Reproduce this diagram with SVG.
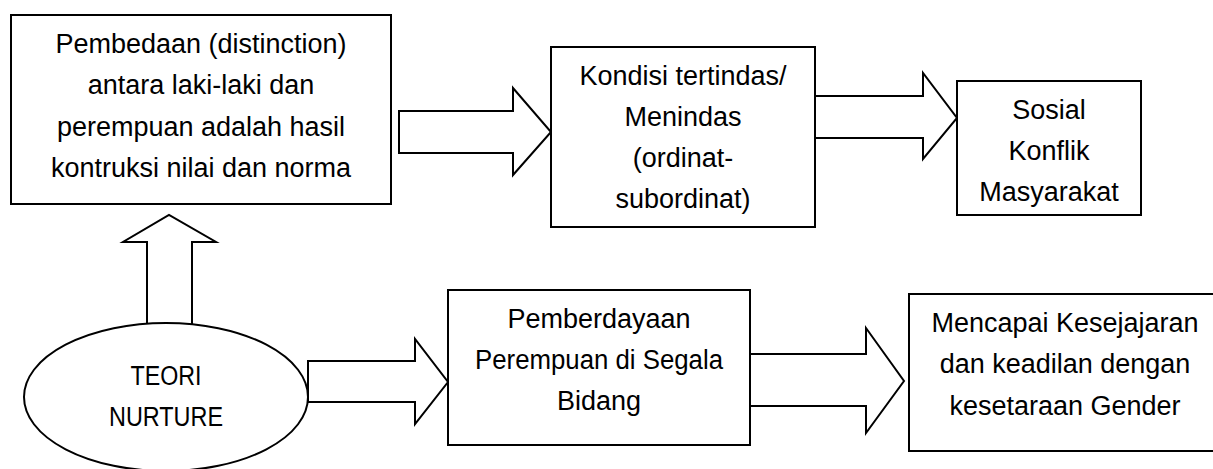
<svg xmlns="http://www.w3.org/2000/svg" width="1213" height="469" viewBox="0 0 1213 469">
<style>
.box{fill:#fff;stroke:#000;stroke-width:2}
.arr{fill:#fff;stroke:#000;stroke-width:2;stroke-linejoin:miter}
.t{font-family:"Liberation Sans",Arial,sans-serif;font-size:27px;fill:#000;text-anchor:middle}
</style>
<rect x="0" y="0" width="1213" height="469" fill="#fff"/>
<g id="connectors">
<polygon class="arr" points="399,111 513,111 513,88 551,132 513,175 513,153 399,153"/>
<polygon class="arr" points="815,96 923,96 923,73 957,118 923,159 923,138 815,138"/>
<polygon class="arr" points="147,330 147,242 123,242 169,215 216,242 192,242 192,330"/>
<polygon class="arr" points="308,361 415,361 415,339 448,382 415,424 415,402 308,402"/>
<polygon class="arr" points="750,354 866,354 866,328 904,381 866,433 866,406 750,406"/>
</g>
<g id="node-pembedaan">
<rect class="box" x="11" y="15" width="380" height="189"/>
<text class="t" x="201" y="53.3">Pembedaan (distinction)</text>
<text class="t" x="201" y="94.4">antara laki-laki dan</text>
<text class="t" x="201" y="135.5">perempuan adalah hasil</text>
<text class="t" x="201" y="176.6">kontruksi nilai dan norma</text>
</g>
<g id="node-kondisi">
<rect class="box" x="551" y="47" width="264" height="180"/>
<text class="t" x="683" y="85">Kondisi tertindas/</text>
<text class="t" x="683" y="126">Menindas</text>
<text class="t" x="683" y="167">(ordinat-</text>
<text class="t" x="683" y="208">subordinat)</text>
</g>
<g id="node-sosial">
<rect class="box" x="957" y="81" width="184" height="134"/>
<text class="t" x="1049" y="118.5">Sosial</text>
<text class="t" x="1049" y="159.5">Konflik</text>
<text class="t" x="1049" y="200.5">Masyarakat</text>
</g>
<g id="node-teori">
<ellipse class="box" cx="166" cy="397" rx="142" ry="74"/>
<text class="t" x="166" y="385" textLength="71" lengthAdjust="spacingAndGlyphs">TEORI</text>
<text class="t" x="166" y="426" textLength="114" lengthAdjust="spacingAndGlyphs">NURTURE</text>
</g>
<g id="node-pemberdayaan">
<rect class="box" x="448" y="290" width="302" height="155"/>
<text class="t" x="599" y="328.3">Pemberdayaan</text>
<text class="t" x="599" y="369.3" textLength="248" lengthAdjust="spacingAndGlyphs">Perempuan di Segala</text>
<text class="t" x="599" y="410.3">Bidang</text>
</g>
<g id="node-mencapai">
<rect class="box" x="909" y="294" width="312" height="157"/>
<text class="t" x="1065" y="332">Mencapai Kesejajaran</text>
<text class="t" x="1065" y="373.3">dan keadilan dengan</text>
<text class="t" x="1065" y="414.6">kesetaraan Gender</text>
</g>
</svg>
